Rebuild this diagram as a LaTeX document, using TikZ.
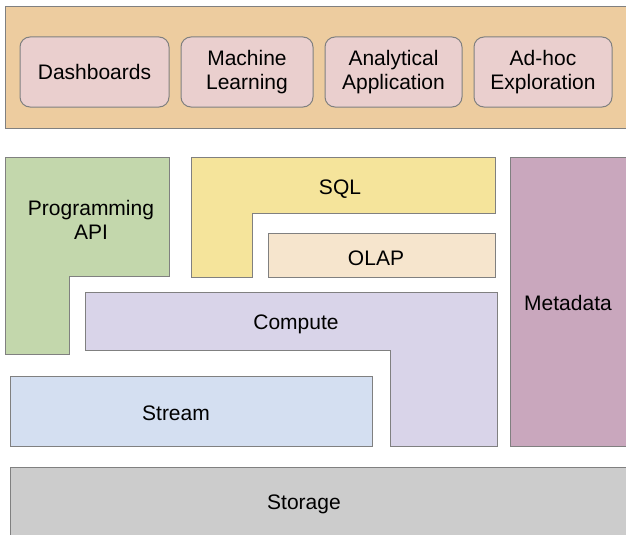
\documentclass[tikz,border=0pt]{standalone}
\usepackage{fontspec}
\setmainfont{Liberation Sans}
\usepackage{tikz}
\usetikzlibrary{positioning}

\definecolor{edgegrey}{HTML}{808080}
\definecolor{appsbg}{HTML}{EDCC9F}
\definecolor{appfill}{HTML}{EACFCE}
\definecolor{apifill}{HTML}{C3D7AC}
\definecolor{sqlfill}{HTML}{F5E49B}
\definecolor{olapfill}{HTML}{F6E5CD}
\definecolor{computefill}{HTML}{D9D4E9}
\definecolor{metafill}{HTML}{C9A7BD}
\definecolor{streamfill}{HTML}{D4DFF1}
\definecolor{storagefill}{HTML}{CCCCCC}

\begin{document}
\begin{tikzpicture}[x=1pt, y=-1pt, node distance={12pt},
    font=\fontsize{21}{24}\selectfont,
    layer/.style = {draw=edgegrey, line width=1pt},
    block/.style = {layer, rectangle, inner sep=0pt, outer sep=0pt},
    app/.style = {block, fill=appfill, rounded corners=10pt, minimum height=70, align=center},
    txt/.style = {align=center, inner sep=0pt}]
    \useasboundingbox (0,0) rectangle (626,535);

    % application layer
    \node[block, fill=appsbg, anchor=north west, minimum width=622, minimum height=121] (apps) at (5,7) {};
    \node[app, minimum width=149] (dash) at (94.5,72) {Dashboards};
    \node[app, minimum width=132] (ml) [right=of dash] {Machine\\Learning};
    \node[app, minimum width=137] (ana) [right=of ml] {Analytical\\Application};
    \node[app, minimum width=138] (adhoc) [right=of ana] {Ad-hoc\\Exploration};

    % interfaces
    \draw[layer, fill=apifill] (5,157) -- (169,157) -- (169,276) -- (69,276) -- (69,354) -- (5,354) -- cycle;
    \node[txt] (api) at (91,220) {Programming\\API};
    \draw[layer, fill=sqlfill] (191,157) -- (495,157) -- (495,213) -- (252,213) -- (252,277) -- (191,277) -- cycle;
    \node[txt] (sql) at (340,189) {SQL};
    \node[block, fill=olapfill, anchor=north west, minimum width=227, minimum height=44] (olapbox) at (268,233) {};
    \node[txt] (olap) at (376,258) {OLAP};

    % engines
    \draw[layer, fill=computefill] (85,292) -- (497,292) -- (497,446) -- (390,446) -- (390,350) -- (85,350) -- cycle;
    \node[txt] (compute) at (296,324) {Compute};
    \node[block, fill=metafill, anchor=north west, minimum width=117, minimum height=289] (metabox) at (510,157) {};
    \node[txt] (meta) at (568,303) {Metadata};
    \node[block, fill=streamfill, anchor=north west, minimum width=362, minimum height=70] (streambox) at (10,376) {};
    \node[txt] (stream) at (176,413) {Stream};

    % storage
    \node[block, fill=storagefill, anchor=north west, minimum width=617, minimum height=69] (storebox) at (10,467) {};
    \node[txt] (storage) at (304,504) {Storage};
\end{tikzpicture}
\end{document}
